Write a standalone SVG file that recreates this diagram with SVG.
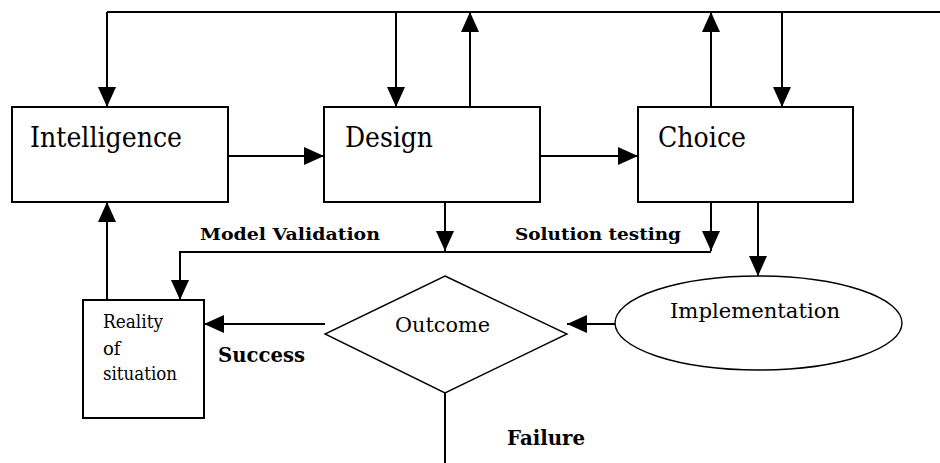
<svg xmlns="http://www.w3.org/2000/svg" width="940" height="463" viewBox="0 0 940 463">
<style>
.box{fill:#fff;stroke:#000;stroke-width:2}
.thin{fill:#fff;stroke:#000;stroke-width:1.4}
.ln{fill:none;stroke:#000;stroke-width:2}
.t{font-family:'DejaVu Serif','Liberation Serif',serif;fill:#000}
.b{font-family:'DejaVu Serif','Liberation Serif',serif;font-weight:bold;fill:#000}
</style>
<defs>
<marker id="ah" markerUnits="userSpaceOnUse" markerWidth="20" markerHeight="20" refX="20" refY="10" orient="auto">
<path d="M0,1 L20,10 L0,19 z" fill="#000"/>
</marker>
</defs>
<rect width="940" height="463" fill="#fff"/>
<g id="connectors">
<path class="ln" d="M107,12 H940"/>
<path class="ln" d="M107,12 V107" marker-end="url(#ah)"/>
<path class="ln" d="M396,12 V107" marker-end="url(#ah)"/>
<path class="ln" d="M470,107 V12" marker-end="url(#ah)"/>
<path class="ln" d="M711,107 V12" marker-end="url(#ah)"/>
<path class="ln" d="M782,12 V107" marker-end="url(#ah)"/>
<path class="ln" d="M228,156 H324" marker-end="url(#ah)"/>
<path class="ln" d="M540,156 H638" marker-end="url(#ah)"/>
<path class="ln" d="M445,202 V251" marker-end="url(#ah)"/>
<path class="ln" d="M711,202 V251" marker-end="url(#ah)"/>
<path class="ln" d="M711,252 H180 V300" marker-end="url(#ah)"/>
<path class="ln" d="M758,202 V276" marker-end="url(#ah)"/>
<path class="ln" d="M615,324 H567" marker-end="url(#ah)"/>
<path class="ln" d="M325,324 H204" marker-end="url(#ah)"/>
<path class="ln" d="M107,300 V202" marker-end="url(#ah)"/>
<path class="ln" d="M445,393 V463"/>
</g>
<g id="intelligence">
<rect class="box" x="12" y="107" width="216" height="95"/>
<text class="t" x="30" y="147" font-size="27" textLength="152" lengthAdjust="spacingAndGlyphs">Intelligence</text>
</g>
<g id="design">
<rect class="box" x="324" y="107" width="216" height="95"/>
<text class="t" x="345" y="147" font-size="27" textLength="88" lengthAdjust="spacingAndGlyphs">Design</text>
</g>
<g id="choice">
<rect class="box" x="638" y="107" width="215" height="95"/>
<text class="t" x="658" y="147" font-size="27" textLength="88" lengthAdjust="spacingAndGlyphs">Choice</text>
</g>
<g id="reality">
<rect class="box" x="83" y="300" width="121" height="118"/>
<text class="t" x="103" y="328" font-size="18" textLength="60" lengthAdjust="spacingAndGlyphs">Reality</text>
<text class="t" x="103" y="355" font-size="18">of</text>
<text class="t" x="103" y="380" font-size="18" textLength="74" lengthAdjust="spacingAndGlyphs">situation</text>
</g>
<g id="outcome">
<polygon class="thin" points="445,276 567,334 445,393 325,334"/>
<text class="t" x="395" y="332" font-size="20" textLength="95" lengthAdjust="spacingAndGlyphs">Outcome</text>
</g>
<g id="implementation">
<ellipse class="thin" cx="758.5" cy="323" rx="143.5" ry="47"/>
<text class="t" x="670" y="318" font-size="21" textLength="170" lengthAdjust="spacingAndGlyphs">Implementation</text>
</g>
<g id="labels">
<text class="b" x="200" y="240" font-size="17" textLength="180" lengthAdjust="spacingAndGlyphs">Model Validation</text>
<text class="b" x="515" y="240" font-size="17" textLength="166" lengthAdjust="spacingAndGlyphs">Solution testing</text>
<text class="b" x="218" y="362" font-size="21" textLength="87" lengthAdjust="spacingAndGlyphs">Success</text>
<text class="b" x="507" y="445" font-size="20" textLength="78" lengthAdjust="spacingAndGlyphs">Failure</text>
</g>
</svg>
